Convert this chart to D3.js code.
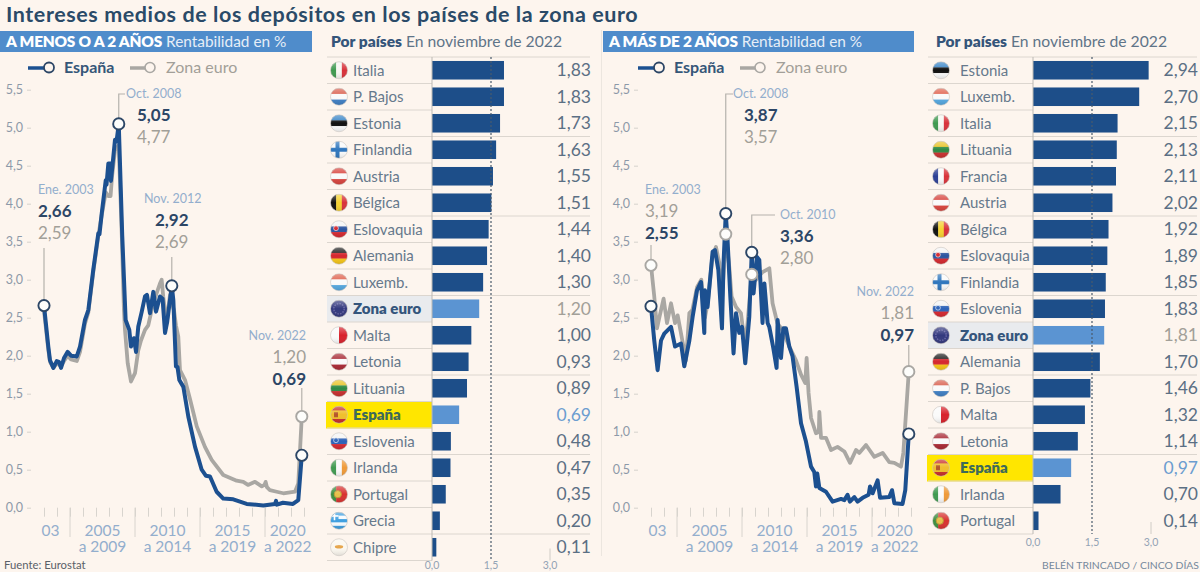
<!DOCTYPE html>
<html><head><meta charset="utf-8">
<script src="https://cdn.jsdelivr.net/npm/d3@7/dist/d3.min.js"></script>
<style>html,body{margin:0;padding:0;background:#fdf5ee;overflow:hidden}svg{display:block;font-family:Lato,"Noto Sans",sans-serif}</style>
</head><body><svg id="c" width="1200" height="572"></svg>
<script>
const titleText="Intereses medios de los depósitos en los países de la zona euro";
const yTicks=[0,0.5,1,1.5,2,2.5,3,3.5,4,4.5,5,5.5];
const yearTicks=d3.range(2003,2024);
const sepYears=[2005,2010,2015,2020];
const periodTop=["03","2005","2010","2015","2020"];
const periodBottom=["","a 2009","a 2014","a 2019","a 2022"];
const periodMid=[2003.5,2007.5,2012.5,2017.5,2021.75];

const shortYearsES=[2003,2003.33,2003.46,2003.72,2003.98,2004.15,2004.31,2004.54,2004.82,2005.08,2005.52,2005.77,2006.15,2006.41,2006.79,2007.18,2007.27,2007.44,2007.75,2007.81,2007.95,2008.12,2008.15,2008.46,2008.58,2008.75,2009.02,2009.28,2009.56,2009.69,2009.92,2010.08,2010.25,2010.52,2010.77,2010.92,2011.15,2011.41,2011.62,2011.92,2012.12,2012.31,2012.48,2012.83,2012.95,2013.15,2013.27,2013.41,2013.72,2014.1,2014.62,2015.13,2015.46,2015.77,2016.28,2016.79,2017.56,2018.59,2019.87,2020.77,2020.85,2020.92,2021.38,2022.15,2022.56,2022.83];
const shortSpain=[2.66,2.12,1.94,1.84,1.93,1.92,1.84,1.97,2.05,2,1.99,2.12,2.47,2.6,3.13,3.61,3.6,3.87,4.31,4.25,4.53,4.53,4.3,4.84,4.82,5.05,3.57,2.47,2.34,2.12,2.23,2.05,2.38,2.58,2.78,2.8,2.56,2.84,2.58,2.78,2.75,2.3,2.45,2.92,2.73,1.86,1.85,1.68,1.59,1.2,0.8,0.5,0.42,0.41,0.21,0.12,0.11,0.05,0.03,0.05,0.09,0.04,0.065,0.05,0.1,0.69];
const shortYearsEU=[2003,2003.33,2003.46,2003.72,2004,2004.31,2004.54,2004.82,2005.08,2005.52,2005.77,2006.15,2006.41,2006.79,2007.18,2007.44,2007.75,2007.95,2008.12,2008.23,2008.46,2008.75,2009,2009.15,2009.23,2009.44,2009.69,2010,2010.25,2010.46,2010.77,2011.02,2011.28,2011.54,2011.92,2012.05,2012.17,2012.43,2012.69,2012.83,2013,2013.15,2013.33,2013.46,2013.85,2014.23,2014.75,2015.38,2015.9,2016.79,2017.82,2018.33,2018.69,2019.23,2019.75,2019.96,2020.05,2020.15,2020.38,2020.9,2021.41,2022.31,2022.56,2022.83];
const shortEuro=[2.59,2.08,1.92,1.84,1.9,1.86,1.93,2,1.95,1.93,2.05,2.42,2.57,3.1,3.58,3.85,4.15,4.1,4.1,4.35,4.7,4.77,3.5,2.6,2.34,1.9,1.66,1.77,2.07,2.2,2.34,2.4,2.6,2.76,2.95,3,2.78,2.43,2.8,2.69,2.6,2.4,2.25,1.81,1.68,1.43,1.07,0.8,0.63,0.43,0.355,0.34,0.3,0.34,0.28,0.3,0.34,0.27,0.23,0.21,0.19,0.21,0.32,1.2];

const longYearsES=[2003,2003.25,2003.51,2003.77,2004.02,2004.54,2004.85,2005.31,2005.56,2005.95,2006.2,2006.54,2006.85,2007.1,2007.15,2007.35,2007.74,2007.92,2008.18,2008.46,2008.58,2008.75,2008.89,2009.1,2009.35,2009.54,2009.79,2010,2010.25,2010.56,2010.75,2010.89,2011.15,2011.33,2011.58,2011.72,2011.97,2012.1,2012.41,2012.66,2012.74,2013,2013.18,2013.38,2013.64,2013.89,2014.2,2014.54,2014.92,2015.31,2015.56,2015.69,2015.79,2015.95,2016.46,2016.97,2017.62,2017.87,2018.12,2018.3,2018.64,2018.89,2019.28,2019.74,2019.85,2020.05,2020.43,2020.62,2021.33,2021.54,2021.72,2022.35,2022.56,2022.83];
const longSpain=[2.65,2.2,1.81,2.2,2.29,2.38,2.12,2.16,1.86,2.2,2.51,2.86,2.97,2.3,2.86,2.64,3.37,3.39,3.13,2.36,3.22,3.87,3.52,2.78,2.03,2.56,2.3,2.38,1.9,2.51,3.36,2.82,3.3,3.26,2.43,2.95,2.43,2.38,2.1,1.84,2.47,1.97,2.36,2.36,2.12,1.99,1.59,1.11,0.87,0.54,0.47,0.28,0.45,0.26,0.21,0.08,0.115,0.1,0.17,0.08,0.14,0.08,0.13,0.17,0.28,0.19,0.36,0.13,0.14,0.23,0.06,0.05,0.23,0.97];
const longYearsEU=[2003,2003.25,2003.46,2003.64,2003.97,2004.23,2004.54,2004.85,2005.05,2005.41,2005.69,2005.95,2006.18,2006.54,2006.87,2007.15,2007.37,2007.72,2008,2008.25,2008.48,2008.75,2009.02,2009.2,2009.54,2009.92,2010.18,2010.41,2010.75,2011.08,2011.58,2012.1,2012.35,2012.72,2013.1,2013.64,2014.15,2014.54,2014.87,2014.97,2015.12,2015.31,2015.69,2015.91,2015.95,2016.08,2016.46,2016.85,2017.35,2017.87,2018.31,2018.77,2019.02,2019.54,2020.18,2020.82,2021.33,2021.72,2022.23,2022.41,2022.83];
const longEuro=[3.19,2.78,2.36,2.5,2.75,2.43,2.69,2.43,2.53,2.2,1.94,2.56,2.6,2.9,3,2.5,2.7,3.3,3.43,3.22,2.78,3.6,3.17,2.78,2.64,2.56,2.2,2.4,3.07,3,3.1,3.15,2.69,2.43,2.34,2.12,1.94,1.75,1.64,1.97,1.51,1.18,0.98,1,1.26,0.92,0.92,0.76,0.8,0.74,0.59,0.76,0.72,0.825,0.67,0.72,0.6,0.59,0.54,0.72,1.79];

const shortCountries=["Italia","P. Bajos","Estonia","Finlandia","Austria","Bélgica","Eslovaquia","Alemania","Luxemb.","Zona euro","Malta","Letonia","Lituania","España","Eslovenia","Irlanda","Portugal","Grecia","Chipre"];
const shortValues=[1.83,1.83,1.73,1.63,1.55,1.51,1.44,1.40,1.30,1.20,1.00,0.93,0.89,0.69,0.48,0.47,0.35,0.20,0.11];
const longCountries=["Estonia","Luxemb.","Italia","Lituania","Francia","Austria","Bélgica","Eslovaquia","Finlandia","Eslovenia","Zona euro","Alemania","P. Bajos","Malta","Letonia","España","Irlanda","Portugal"];
const longValues=[2.94,2.70,2.15,2.13,2.11,2.02,1.92,1.89,1.85,1.83,1.81,1.70,1.46,1.32,1.14,0.97,0.70,0.14];

const flagStripes={
 "Italia":["v","#3f9a50","#f7f7f2","#d8323a"],"P. Bajos":["h","#d9604f","#fafafa","#3f7fc4"],"Estonia":["h","#3b86c8","#111111","#fafafa"],
 "Finlandia":["h","#fafafa"],"Austria":["h","#d8453f","#fafafa","#d8453f"],"Bélgica":["v","#111111","#f5d130","#d8323a"],
 "Eslovaquia":["h","#f4f4f4","#2c55a0","#d5282f"],"Alemania":["h","#222222","#d5282f","#f5c518"],"Luxemb.":["h","#e0634f","#fafafa","#55a8e0"],
 "Zona euro":["h","#33397e"],"Malta":["v","#fafafa","#d8222c"],"Letonia":["h","#a92a35","#fafafa","#a92a35"],"Lituania":["h","#e8c326","#2f8a45","#c8302f"],
 "España":["h","#c8302a","#f0bf2c","#f0bf2c","#c8302a"],"Eslovenia":["h","#f4f4f4","#2c62b8","#d5282f"],"Irlanda":["v","#3f9a50","#fafafa","#ef9a38"],
 "Portugal":["v","#3f8f40","#d8322f","#d8322f"],"Grecia":["h","#3f9fe0","#f5fbff","#3f9fe0","#f5fbff","#3f9fe0"],"Chipre":["h","#fbf7ef"],"Francia":["v","#2c3f95","#fafafa","#d8323a"]
};

const NAVY="#1c5090",GREY="#a9a7a3",BG="#fdf5ee",DARK="#2c4666",SOFT="#93aecd",AX="#8d99a8",MID="#5f7488",GTEXT="#a29f98";
const svg=d3.select("#c");
svg.append("rect").attr("width",1200).attr("height",572).attr("fill",BG);
const defs=svg.append("defs");
const gloss=defs.append("linearGradient").attr("id","gloss").attr("x1",0).attr("y1",0).attr("x2",0).attr("y2",1);
gloss.append("stop").attr("offset","0").attr("stop-color","#fff").attr("stop-opacity",.35);
gloss.append("stop").attr("offset",".5").attr("stop-color","#fff").attr("stop-opacity",0);
gloss.append("stop").attr("offset","1").attr("stop-color","#000").attr("stop-opacity",.12);

svg.append("text").attr("x",6).attr("y",21.5).attr("font-size",21.5).attr("letter-spacing",.58).attr("font-weight",700).attr("fill","#2a4a68").text(titleText);

function txt(g,x,y,s,o={}){
  return g.append("text").attr("x",x).attr("y",y).attr("font-size",o.size||14).attr("font-weight",o.w||400)
   .attr("fill",o.c||MID).attr("text-anchor",o.a||"start").text(s);
}
function linePanel(o){
  const g=svg.append("g");
  g.append("rect").attr("x",o.hx).attr("y",31).attr("width",o.hw).attr("height",21).attr("fill","#4f8ccb");
  const h=g.append("text").attr("x",o.hx+6).attr("y",46.5).attr("font-size",15.4).attr("fill","#fff");
  h.append("tspan").attr("font-weight",800).attr("letter-spacing",-.2).text(o.head);
  h.append("tspan").attr("dx",4).attr("fill","#e6eef7").text("Rentabilidad en %");

  const x=d3.scaleLinear().domain([2003,2023]).range([o.x0,o.x0+260]);
  const y=d3.scaleLinear().domain([0,5.5]).range([507.7,89.7]);

  // legend
  const L=o.x0-16+(o.legendShift||0);
  g.append("line").attr("x1",L).attr("x2",L+18).attr("y1",68).attr("y2",68).attr("stroke",NAVY).attr("stroke-width",3.5);
  g.append("circle").attr("cx",L+21).attr("cy",67.5).attr("r",5).attr("fill",BG).attr("stroke",DARK).attr("stroke-width",1.8);
  txt(g,L+36,72.5,"España",{size:16,w:700,c:"#355678"});
  g.append("line").attr("x1",L+102).attr("x2",L+118).attr("y1",68).attr("y2",68).attr("stroke",GREY).attr("stroke-width",3.5);
  g.append("circle").attr("cx",L+122).attr("cy",67.5).attr("r",5).attr("fill",BG).attr("stroke",GREY).attr("stroke-width",1.6);
  txt(g,L+138,72.5,"Zona euro",{size:16,c:GTEXT});

  // axes
  const ya=g.append("g").attr("transform",`translate(${o.x0-13},0)`)
    .call(d3.axisLeft(y).tickValues(yTicks).tickSize(4).tickPadding(4).tickFormat(d=>d3.format(".1f")(d).replace(".",",")));
  ya.select(".domain").remove();
  ya.selectAll("line").attr("stroke","#d6d2cc");
  ya.selectAll("text").attr("fill",AX).attr("font-size",12.5).attr("font-family","Lato");
  const xa=g.append("g").attr("transform","translate(0,507.7)")
    .call(d3.axisBottom(x).tickValues(yearTicks).tickSize(9).tickFormat(""));
  xa.select(".domain").remove();
  xa.selectAll("line").attr("stroke","#d8d4ce");
  g.selectAll(".sep").data(sepYears).join("line").attr("x1",d=>x(d)).attr("x2",d=>x(d)).attr("y1",507.7).attr("y2",537).attr("stroke","#d8d4ce");
  periodMid.forEach((m,i)=>{
    txt(g,x(m),536,periodTop[i],{size:15.5,c:SOFT,a:"middle"});
    if(periodBottom[i]) txt(g,x(m),552,periodBottom[i],{size:15.5,c:SOFT,a:"middle"});
  });

  // lines
  const ln=d3.line().x(d=>x(d[0])).y(d=>y(d[1])).curve(d3.curveLinear);
  g.append("path").attr("d",ln(d3.zip(o.yE,o.eu))).attr("fill","none").attr("stroke",GREY).attr("stroke-width",3.8).attr("stroke-linejoin","round");
  g.append("path").attr("d",ln(d3.zip(o.yS,o.es))).attr("fill","none").attr("stroke",NAVY).attr("stroke-width",4).attr("stroke-linejoin","round");

  // annotations
  o.notes.forEach(n=>{
    const px=x(n.year);
    const pts=n.leader.map(p=>[p[0]===null?px:p[0],p[1]]);
    g.append("path").attr("d",d3.line()(pts)).attr("fill","none").attr("stroke","#b5b2ac").attr("stroke-width",1.2);
  });
  o.notes.forEach(n=>{
    const a=n.anchor||"start";
    txt(g,n.tx,n.ty,n.label,{size:12.5,c:SOFT,a});
    txt(g,n.tx2===undefined?n.tx:n.tx2,n.ty+23,n.first[0],{size:17,w:n.first[1]===DARK?700:400,c:n.first[1],a});
    txt(g,n.tx2===undefined?n.tx:n.tx2,n.ty+45,n.second[0],{size:17,w:n.second[1]===DARK?700:400,c:n.second[1],a});
    n.dots.forEach(d=>{
      g.append("circle").attr("cx",x(n.year)).attr("cy",y(d[0])).attr("r",5.6)
       .attr("fill","#fdfdfb").attr("stroke",d[1]).attr("stroke-width",1.9);
    });
  });
}
function flag(g,name,cx,cy){
  const id="f"+Math.round(cx)+"_"+Math.round(cy);
  defs.append("clipPath").attr("id",id).append("circle").attr("cx",cx).attr("cy",cy).attr("r",8.5);
  const f=g.append("g").attr("clip-path",`url(#${id})`);
  const s=flagStripes[name],dir=s[0],cols=s.slice(1),n=cols.length,R=8.5;
  cols.forEach((c,i)=>{
    if(dir==="h") f.append("rect").attr("x",cx-R).attr("y",cy-R+i*2*R/n).attr("width",2*R).attr("height",2*R/n+.3).attr("fill",c);
    else f.append("rect").attr("x",cx-R+i*2*R/n).attr("y",cy-R).attr("width",2*R/n+.3).attr("height",2*R).attr("fill",c);
  });
  if(name==="Finlandia"){f.append("rect").attr("x",cx-R).attr("y",cy-2).attr("width",2*R).attr("height",4).attr("fill","#2f76bd");f.append("rect").attr("x",cx-3.5).attr("y",cy-R).attr("width",4).attr("height",2*R).attr("fill","#2f76bd");}
  if(name==="Grecia"){f.append("rect").attr("x",cx-R).attr("y",cy-R).attr("width",8).attr("height",8).attr("fill","#3f9fe0");f.append("rect").attr("x",cx-R).attr("y",cy-5.6).attr("width",8).attr("height",1.6).attr("fill","#fff");f.append("rect").attr("x",cx-5.3).attr("y",cy-R).attr("width",1.6).attr("height",8).attr("fill","#fff");}
  if(name==="Zona euro"){f.append("circle").attr("cx",cx).attr("cy",cy).attr("r",5.2).attr("fill","none").attr("stroke","#6a68a8").attr("stroke-width",1.4).attr("stroke-dasharray","1.5 1.2");}
  if(name==="Portugal"){f.append("circle").attr("cx",cx-1.2).attr("cy",cy).attr("r",3.6).attr("fill","#e8c04a").attr("stroke","#b93");}
  if(name==="España"){f.append("rect").attr("x",cx-5).attr("y",cy-2.5).attr("width",4).attr("height",5).attr("fill","#b5552a");}
  if(name==="Chipre"){f.append("ellipse").attr("cx",cx).attr("cy",cy-.5).attr("rx",4.2).attr("ry",1.8).attr("fill","#e6a54a");}
  if(name==="Eslovaquia"||name==="Eslovenia"){f.append("circle").attr("cx",cx-3).attr("cy",cy-1).attr("r",2.4).attr("fill",name==="Eslovaquia"?"#d5282f":"#2c62b8").attr("stroke","#fff").attr("stroke-width",.6);}
  f.append("rect").attr("x",cx-R).attr("y",cy-R).attr("width",2*R).attr("height",2*R).attr("fill","url(#gloss)");
  g.append("circle").attr("cx",cx).attr("cy",cy).attr("r",8.5).attr("fill","none").attr("stroke","#c9c5bf").attr("stroke-width",.6);
}
function barPanel(o){
  const g=svg.append("g");
  const h=g.append("text").attr("x",o.headX).attr("y",46.5).attr("fill","#5f7488");
  h.append("tspan").attr("font-size",15.5).attr("font-weight",800).attr("fill","#35557a").text("Por países");
  h.append("tspan").attr("dx",4).attr("font-size",15.7).text("En noviembre de 2022");
  const x=d3.scaleLinear().domain([0,3]).range([o.x0,o.x0+118]);
  const rowH=26.5,top=57;
  const y=d3.scaleBand().domain(o.names).range([top,top+rowH*o.names.length]).paddingInner(0.3).paddingOuter(0.15);
  const bottom=top+rowH*o.names.length;
  const row=i=>top+rowH*i;
  o.names.forEach((n,i)=>{
    if(n==="Zona euro") g.append("rect").attr("x",o.left).attr("y",row(i)).attr("width",o.x0-o.left).attr("height",rowH).attr("fill","#e9ebee");
    if(n==="España") g.append("rect").attr("x",o.left-1).attr("y",row(i)+.5).attr("width",o.x0-o.left+1).attr("height",rowH).attr("fill","#ffe600");
  });
  d3.range(o.names.length+1).forEach(i=>{
    const wide=i%3===0&&i>0&&i<o.names.length;
    g.append("line").attr("x1",o.left).attr("x2",(wide||i===0)?o.right:o.x0).attr("y1",row(i)).attr("y2",row(i)).attr("stroke","#dcd6cf").attr("stroke-width",1);
  });
  g.selectAll(".bar").data(o.names).join("rect")
   .attr("x",x(0)).attr("y",d=>y(d)).attr("width",(d,i)=>x(o.vals[i])-x(0)).attr("height",y.bandwidth())
   .attr("fill",d=>(d==="Zona euro"||d==="España")?"#5b94d2":"#1d4e89");
  g.append("line").attr("x1",x(0)).attr("x2",x(0)).attr("y1",top).attr("y2",bottom).attr("stroke","#bcb9b4");
  g.append("line").attr("x1",x(1.5)).attr("x2",x(1.5)).attr("y1",top).attr("y2",bottom).attr("stroke","#4a5a6c").attr("stroke-width",1.2).attr("stroke-dasharray","2 2");
  g.append("line").attr("x1",x(3)).attr("x2",x(3)).attr("y1",bottom-12).attr("y2",bottom).attr("stroke","#d0ccc6");
  o.names.forEach((n,i)=>{
    const cy=row(i)+rowH/2;
    flag(g,n,o.left+o.flagDx,cy);
    const special=n==="Zona euro"||n==="España";
    txt(g,o.left+o.labelDx,cy+5.3,n,{size:15,w:special?800:400,c:n==="España"?"#3d6a5a":(special?"#34557c":"#66798c")});
    txt(g,o.right+1,cy+6,d3.format(".2f")(o.vals[i]).replace(".",","),{size:17.5,a:"end",c:n==="Zona euro"?GTEXT:(n==="España"?"#6c9dd0":"#5b6f84")});
  });
  [0,1.5,3].forEach(t=>txt(g,x(t),Math.min(bottom+11.5,569),d3.format(".1f")(t).replace(".",","),{size:10.5,a:"middle",c:"#93a3b5"}));
}

linePanel({hx:0,hw:312,head:"A MENOS O A 2 AÑOS",x0:44,yS:shortYearsES,es:shortSpain,yE:shortYearsEU,eu:shortEuro,notes:[
 {year:2003,label:"Ene. 2003",tx:38,ty:194,first:["2,66",DARK],second:["2,59",GTEXT],leader:[[null,248],[null,302]],dots:[[2.66,DARK]]},
 {year:2008.75,label:"Oct. 2008",tx:126,ty:98,first:["5,05",DARK],second:["4,77",GTEXT],tx2:137,leader:[[125,94],[null,94],[null,120]],dots:[[5.05,DARK]]},
 {year:2012.83,label:"Nov. 2012",tx:144,ty:203,first:["2,92",DARK],second:["2,69",GTEXT],tx2:155,leader:[[null,257],[null,280]],dots:[[2.92,DARK]]},
 {year:2022.83,label:"Nov. 2022",tx:306,ty:340,anchor:"end",first:["1,20",GTEXT],second:["0,69",DARK],leader:[[null,388],[null,412]],dots:[[1.2,GREY],[0.69,DARK]]}
]});
linePanel({hx:603,hw:311,head:"A MÁS DE 2 AÑOS",x0:651,legendShift:3,yS:longYearsES,es:longSpain,yE:longYearsEU,eu:longEuro,notes:[
 {year:2003,label:"Ene. 2003",tx:645,ty:194,first:["3,19",GTEXT],second:["2,55",DARK],leader:[[null,245],[null,260]],dots:[[3.19,GREY],[2.65,DARK]]},
 {year:2008.75,label:"Oct. 2008",tx:733,ty:98,first:["3,87",DARK],second:["3,57",GTEXT],tx2:744,leader:[[733,94],[null,94],[null,210]],dots:[[3.6,GREY],[3.87,DARK]]},
 {year:2010.75,label:"Oct. 2010",tx:780,ty:219,first:["3,36",DARK],second:["2,80",GTEXT],leader:[[775,215],[null,215],[null,247]],dots:[[3.07,GREY],[3.36,DARK]]},
 {year:2022.83,label:"Nov. 2022",tx:914,ty:296,anchor:"end",first:["1,81",GTEXT],second:["0,97",DARK],leader:[[null,345],[null,368]],dots:[[1.79,GREY],[0.97,DARK]]}
]});
barPanel({left:327,right:590,x0:432,headX:331,flagDx:12,labelDx:26,names:shortCountries,vals:shortValues});
barPanel({left:928,right:1197,x0:1033,headX:936,flagDx:13,labelDx:32,names:longCountries,vals:longValues});

svg.append("line").attr("x1",601.5).attr("x2",601.5).attr("y1",30).attr("y2",556).attr("stroke","#ece6df");
txt(svg,4,569,"Fuente: Eurostat",{size:11.3,c:"#5a6068"});
txt(svg,1199,569,"BELÉN TRINCADO / CINCO DÍAS",{size:10.4,a:"end",c:"#75889c"});
</script></body></html>
